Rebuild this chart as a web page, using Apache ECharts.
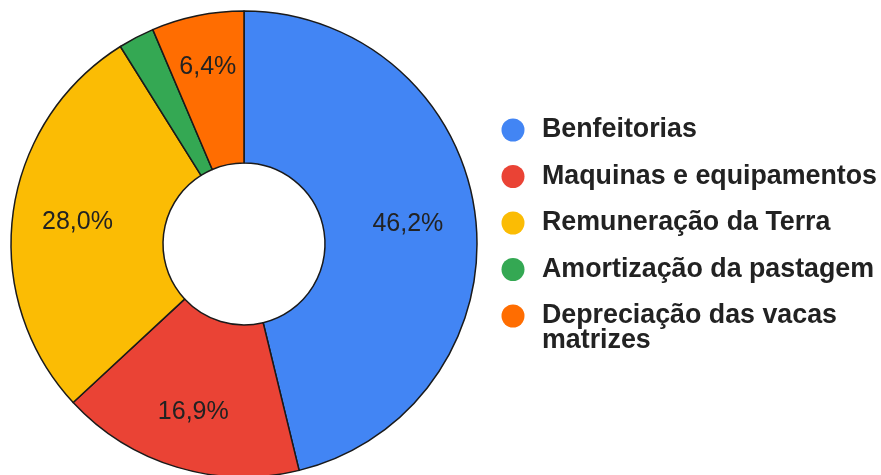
<!DOCTYPE html>
<html>
<head>
<meta charset="utf-8">
<script src="https://cdn.jsdelivr.net/npm/echarts@6/dist/echarts.min.js"></script>
<style>
  html, body { margin: 0; padding: 0; background: #fff; }
  #chart { width: 881px; height: 475px; }
</style>
</head>
<body>
<div id="chart"></div>
<script>
const categories = [
  "Benfeitorias",
  "Maquinas e equipamentos",
  "Remuneração da Terra",
  "Amortização da pastagem",
  "Depreciação das vacas matrizes"
];
const values = [46.2, 16.9, 28.0, 2.5, 6.4];
const colors = ["#4285F4", "#EA4335", "#FBBC04", "#34A853", "#FF6D01"];

// layout
const CX = 244, CY = 244;
// distance of each slice label from the centre, as placed in the reference
const labelRadius = [165, 176, 168, 170, 181];

const chart = echarts.init(document.getElementById("chart"));

const data = categories.map((name, i) => ({
  name: name,
  value: values[i],
  // small slice has no label in the reference
  label: { show: values[i] >= 5 }
}));

const legendText = {
  fontFamily: "Liberation Sans",
  fontSize: 26.8,
  fontWeight: "bold",
  color: "#222222",
  lineHeight: 25,
  padding: [0, 0, 0, 12.5]
};

const legendBase = {
  orient: "vertical",
  left: 501.5,
  padding: 0,
  icon: "circle",
  itemWidth: 23,
  itemHeight: 23,
  itemGap: 19.5,
  selectedMode: false,
  itemStyle: { borderWidth: 0 }
};

chart.setOption({
  color: colors,
  legend: [
    Object.assign({}, legendBase, {
      top: 116.5,
      data: categories.slice(0, 4),
      textStyle: legendText
    }),
    // last entry wraps; empty first line keeps the first text line on the icon
    Object.assign({}, legendBase, {
      top: 277.5,
      data: categories.slice(4),
      formatter: () => "\nDepreciação das vacas\nmatrizes",
      textStyle: legendText
    })
  ],
  series: [{
    type: "pie",
    center: [CX, CY],
    radius: [81, 233],
    startAngle: 90,
    clockwise: true,
    avoidLabelOverlap: false,
    itemStyle: { borderColor: "#1a1a1a", borderWidth: 1.5 },
    label: {
      position: "inside",
      fontFamily: "Liberation Sans",
      fontSize: 25,
      color: "#222222",
      formatter: (p) => p.value.toFixed(1).replace(".", ",") + "%"
    },
    labelLayout: (p) => {
      const r = p.labelRect;
      const a = Math.atan2(r.y + r.height / 2 - CY, r.x + r.width / 2 - CX);
      const d = labelRadius[p.dataIndex];
      return { x: CX + d * Math.cos(a), y: CY + d * Math.sin(a) };
    },
    labelLine: { show: false },
    emphasis: { disabled: true },
    data: data
  }]
});
</script>
</body>
</html>
